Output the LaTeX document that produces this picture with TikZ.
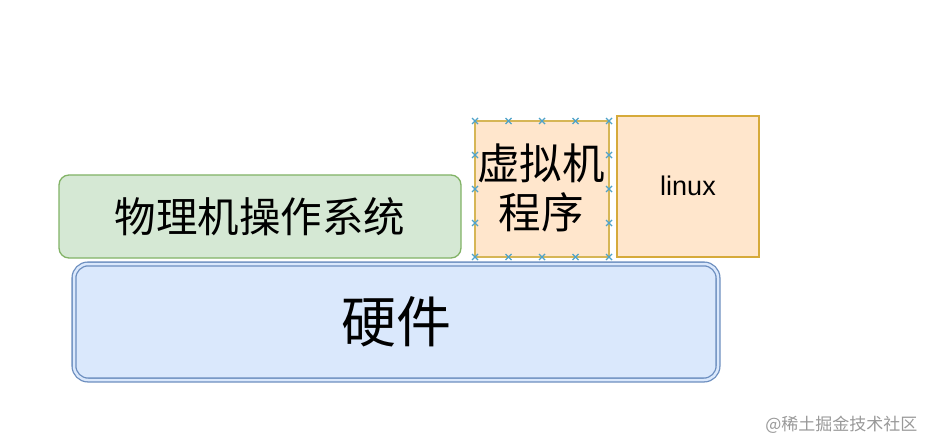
\documentclass[tikz,border=0pt]{standalone}
\usepackage{fontspec}
\setmainfont{Liberation Sans}
\newfontfamily\cjk{Noto Sans CJK SC}
\definecolor{gfill}{HTML}{D5E8D4}
\definecolor{gline}{HTML}{82B366}
\definecolor{ofill}{HTML}{FFE6CC}
\definecolor{oline}{HTML}{D6B656}
\definecolor{oline2}{HTML}{D6AA3A}
\definecolor{bfill}{HTML}{DAE8FC}
\definecolor{bline}{HTML}{6C8EBF}
\definecolor{selblue}{HTML}{4FA3C9}
\begin{document}
\begin{tikzpicture}[x=1pt,y=-1pt,
  box/.style={draw, line width=1.3pt, inner sep=0pt},
  xmark/.style={draw=selblue, line width=1.4pt}]
\useasboundingbox (0,0) rectangle (927,441);
\fill[white] (0,0) rectangle (927,441);
% hardware
\node[box, draw=bline, fill=bfill, rounded corners=14pt, double=bfill, double distance=2.5pt, minimum width=644pt, minimum height=116pt] (hw) at (396,322) {};
\node[font=\cjk\fontsize{55}{60}\selectfont] (hwt) at (396,322) {硬件};
% os
\node[box, draw=gline, fill=gfill, rounded corners=10pt, minimum width=402pt, minimum height=83pt] (os) at (260,216.5) {};
\node[font=\cjk\fontsize{41.5}{48}\selectfont] (ost) at (260,216.5) {物理机操作系统};
% vm
\node[box, draw=oline, fill=ofill, minimum width=134pt, minimum height=136pt] (vm) at (542,189) {};
\node[font=\cjk\fontsize{42.5}{49}\selectfont, align=center] (vmt) at (541,188) {虚拟机\\程序};
% linux
\node[box, draw=oline2, fill=ofill, minimum width=142pt, minimum height=141pt] (lx) at (688,186.5) {};
\node[font=\fontsize{27}{30}\selectfont] (lxt) at (688,186) {linux};
% selection markers
\foreach \px in {475,508.5,542,575.5,609} {
  \foreach \py in {121,257} {
    \draw[xmark] (\px-3,\py-3) -- (\px+3,\py+3) (\px-3,\py+3) -- (\px+3,\py-3);
  }
}
\foreach \py in {155,189,223} {
  \foreach \px in {475,609} {
    \draw[xmark] (\px-3,\py-3) -- (\px+3,\py+3) (\px-3,\py+3) -- (\px+3,\py-3);
  }
}
% watermark
\node[font=\cjk\fontsize{17}{20}\selectfont, text=black!40, anchor=east] (wm) at (921,425) {@稀土掘金技术社区};
\end{tikzpicture}
\end{document}
